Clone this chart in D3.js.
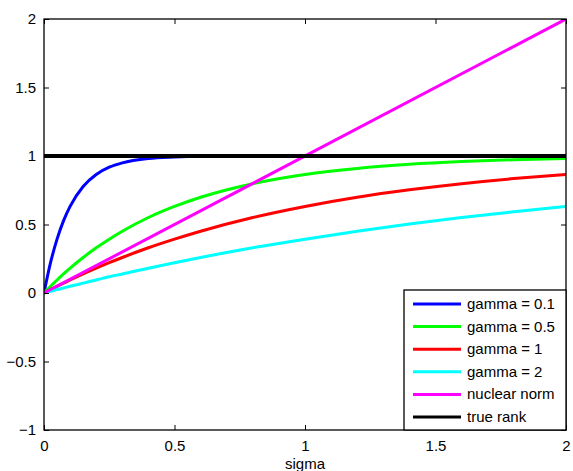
<!DOCTYPE html>
<html><head><meta charset="utf-8">
<script src="https://cdn.jsdelivr.net/npm/d3@7"></script>
<style>
body{margin:0;background:#fff;}
text{font-family:"Liberation Sans",Arial,Helvetica,sans-serif;}
</style></head>
<body><svg id="c" width="573" height="471"></svg>
<script>
const sigma = [0,0.025,0.05,0.075,0.1,0.15,0.2,0.25,0.3,0.4,0.5,0.6,0.8,1.0,1.2,1.4,1.6,1.8,2.0];
const gamma01 = [0,0.221,0.393,0.528,0.632,0.777,0.865,0.918,0.950,0.982,0.993,0.998,1.0,1.0,1.0,1.0,1.0,1.0,1.0];
const gamma05 = [0,0.049,0.095,0.139,0.181,0.259,0.330,0.393,0.451,0.551,0.632,0.699,0.798,0.865,0.909,0.939,0.959,0.973,0.982];
const gamma1  = [0,0.025,0.049,0.072,0.095,0.139,0.181,0.221,0.259,0.330,0.393,0.451,0.551,0.632,0.699,0.753,0.798,0.835,0.865];
const gamma2  = [0,0.012,0.025,0.037,0.049,0.072,0.095,0.118,0.139,0.181,0.221,0.259,0.330,0.393,0.451,0.503,0.551,0.593,0.632];
const nuclearX = [0,2];
const nuclearY = [0,2];
const rankX = [0,2];
const rankY = [1,1];
const seriesNames = ["gamma = 0.1","gamma = 0.5","gamma = 1","gamma = 2","nuclear norm","true rank"];
const seriesColors = ["#0000ff","#00ff00","#ff0000","#00ffff","#ff00ff","#000000"];
const xTicks = [0,0.5,1,1.5,2];
const yTicks = [-1,-0.5,0,0.5,1,1.5,2];
const xLabel = "sigma";

const L=44,R=566,T=19,B=430;
const FS=15;
const svg=d3.select("#c");
const x=d3.scaleLinear().domain([0,2]).range([L,R]);
const y=d3.scaleLinear().domain([-1,2]).range([B,T]);

svg.append("defs").append("clipPath").attr("id","clip").append("rect")
  .attr("x",L).attr("y",T).attr("width",R-L).attr("height",B-T);

const series=[
  sigma.map((s,i)=>[s,gamma01[i]]),
  sigma.map((s,i)=>[s,gamma05[i]]),
  sigma.map((s,i)=>[s,gamma1[i]]),
  sigma.map((s,i)=>[s,gamma2[i]]),
  nuclearX.map((s,i)=>[s,nuclearY[i]]),
  rankX.map((s,i)=>[s,rankY[i]])
];
const line=d3.line().x(d=>x(d[0])).y(d=>y(d[1])).curve(d3.curveMonotoneX);
const g=svg.append("g").attr("clip-path","url(#clip)");
series.forEach((d,i)=>{
  g.append("path").attr("d",line(d)).attr("fill","none")
   .attr("stroke",seriesColors[i]).attr("stroke-width",i===5?4:3)
   .attr("stroke-linejoin","round");
});

const fmt=v=>(v<0?"\u2212":"")+Math.abs(v);
const xb=svg.append("g").attr("transform",`translate(0,${B})`)
  .call(d3.axisBottom(x).tickValues(xTicks).tickSizeInner(-5).tickSizeOuter(0).tickPadding(10).tickFormat(fmt));
const xt=svg.append("g").attr("transform",`translate(0,${T})`)
  .call(d3.axisTop(x).tickValues(xTicks).tickSizeInner(-5).tickSizeOuter(0).tickFormat(""));
const yl=svg.append("g").attr("transform",`translate(${L},0)`)
  .call(d3.axisLeft(y).tickValues(yTicks).tickSizeInner(-5).tickSizeOuter(0).tickPadding(8).tickFormat(fmt));
const yr=svg.append("g").attr("transform",`translate(${R},0)`)
  .call(d3.axisRight(y).tickValues(yTicks).tickSizeInner(-5).tickSizeOuter(0).tickFormat(""));
[xb,xt,yl,yr].forEach(a=>{
  a.selectAll("path.domain").remove();
  a.selectAll("line").attr("stroke","#000").attr("stroke-width",1);
  a.selectAll("text").attr("font-size",FS).attr("fill","#000")
   .attr("font-family","Liberation Sans, Arial, sans-serif");
});
svg.append("rect").attr("x",L).attr("y",T).attr("width",R-L).attr("height",B-T)
  .attr("fill","none").attr("stroke","#000").attr("stroke-width",1.3);

svg.append("text").attr("x",(L+R)/2).attr("y",469).attr("text-anchor","middle")
  .attr("font-size",FS).text(xLabel);

const lg=svg.append("g");
lg.append("rect").attr("x",404).attr("y",290).attr("width",R-404).attr("height",B-290)
  .attr("fill","#fff").attr("stroke","#000").attr("stroke-width",1.3);
seriesNames.forEach((n,i)=>{
  const yy=304+i*22.6;
  lg.append("line").attr("x1",413).attr("x2",461).attr("y1",yy).attr("y2",yy)
    .attr("stroke",seriesColors[i]).attr("stroke-width",3);
  lg.append("text").attr("x",467).attr("y",yy+5).attr("font-size",FS).text(n);
});
</script></body></html>
